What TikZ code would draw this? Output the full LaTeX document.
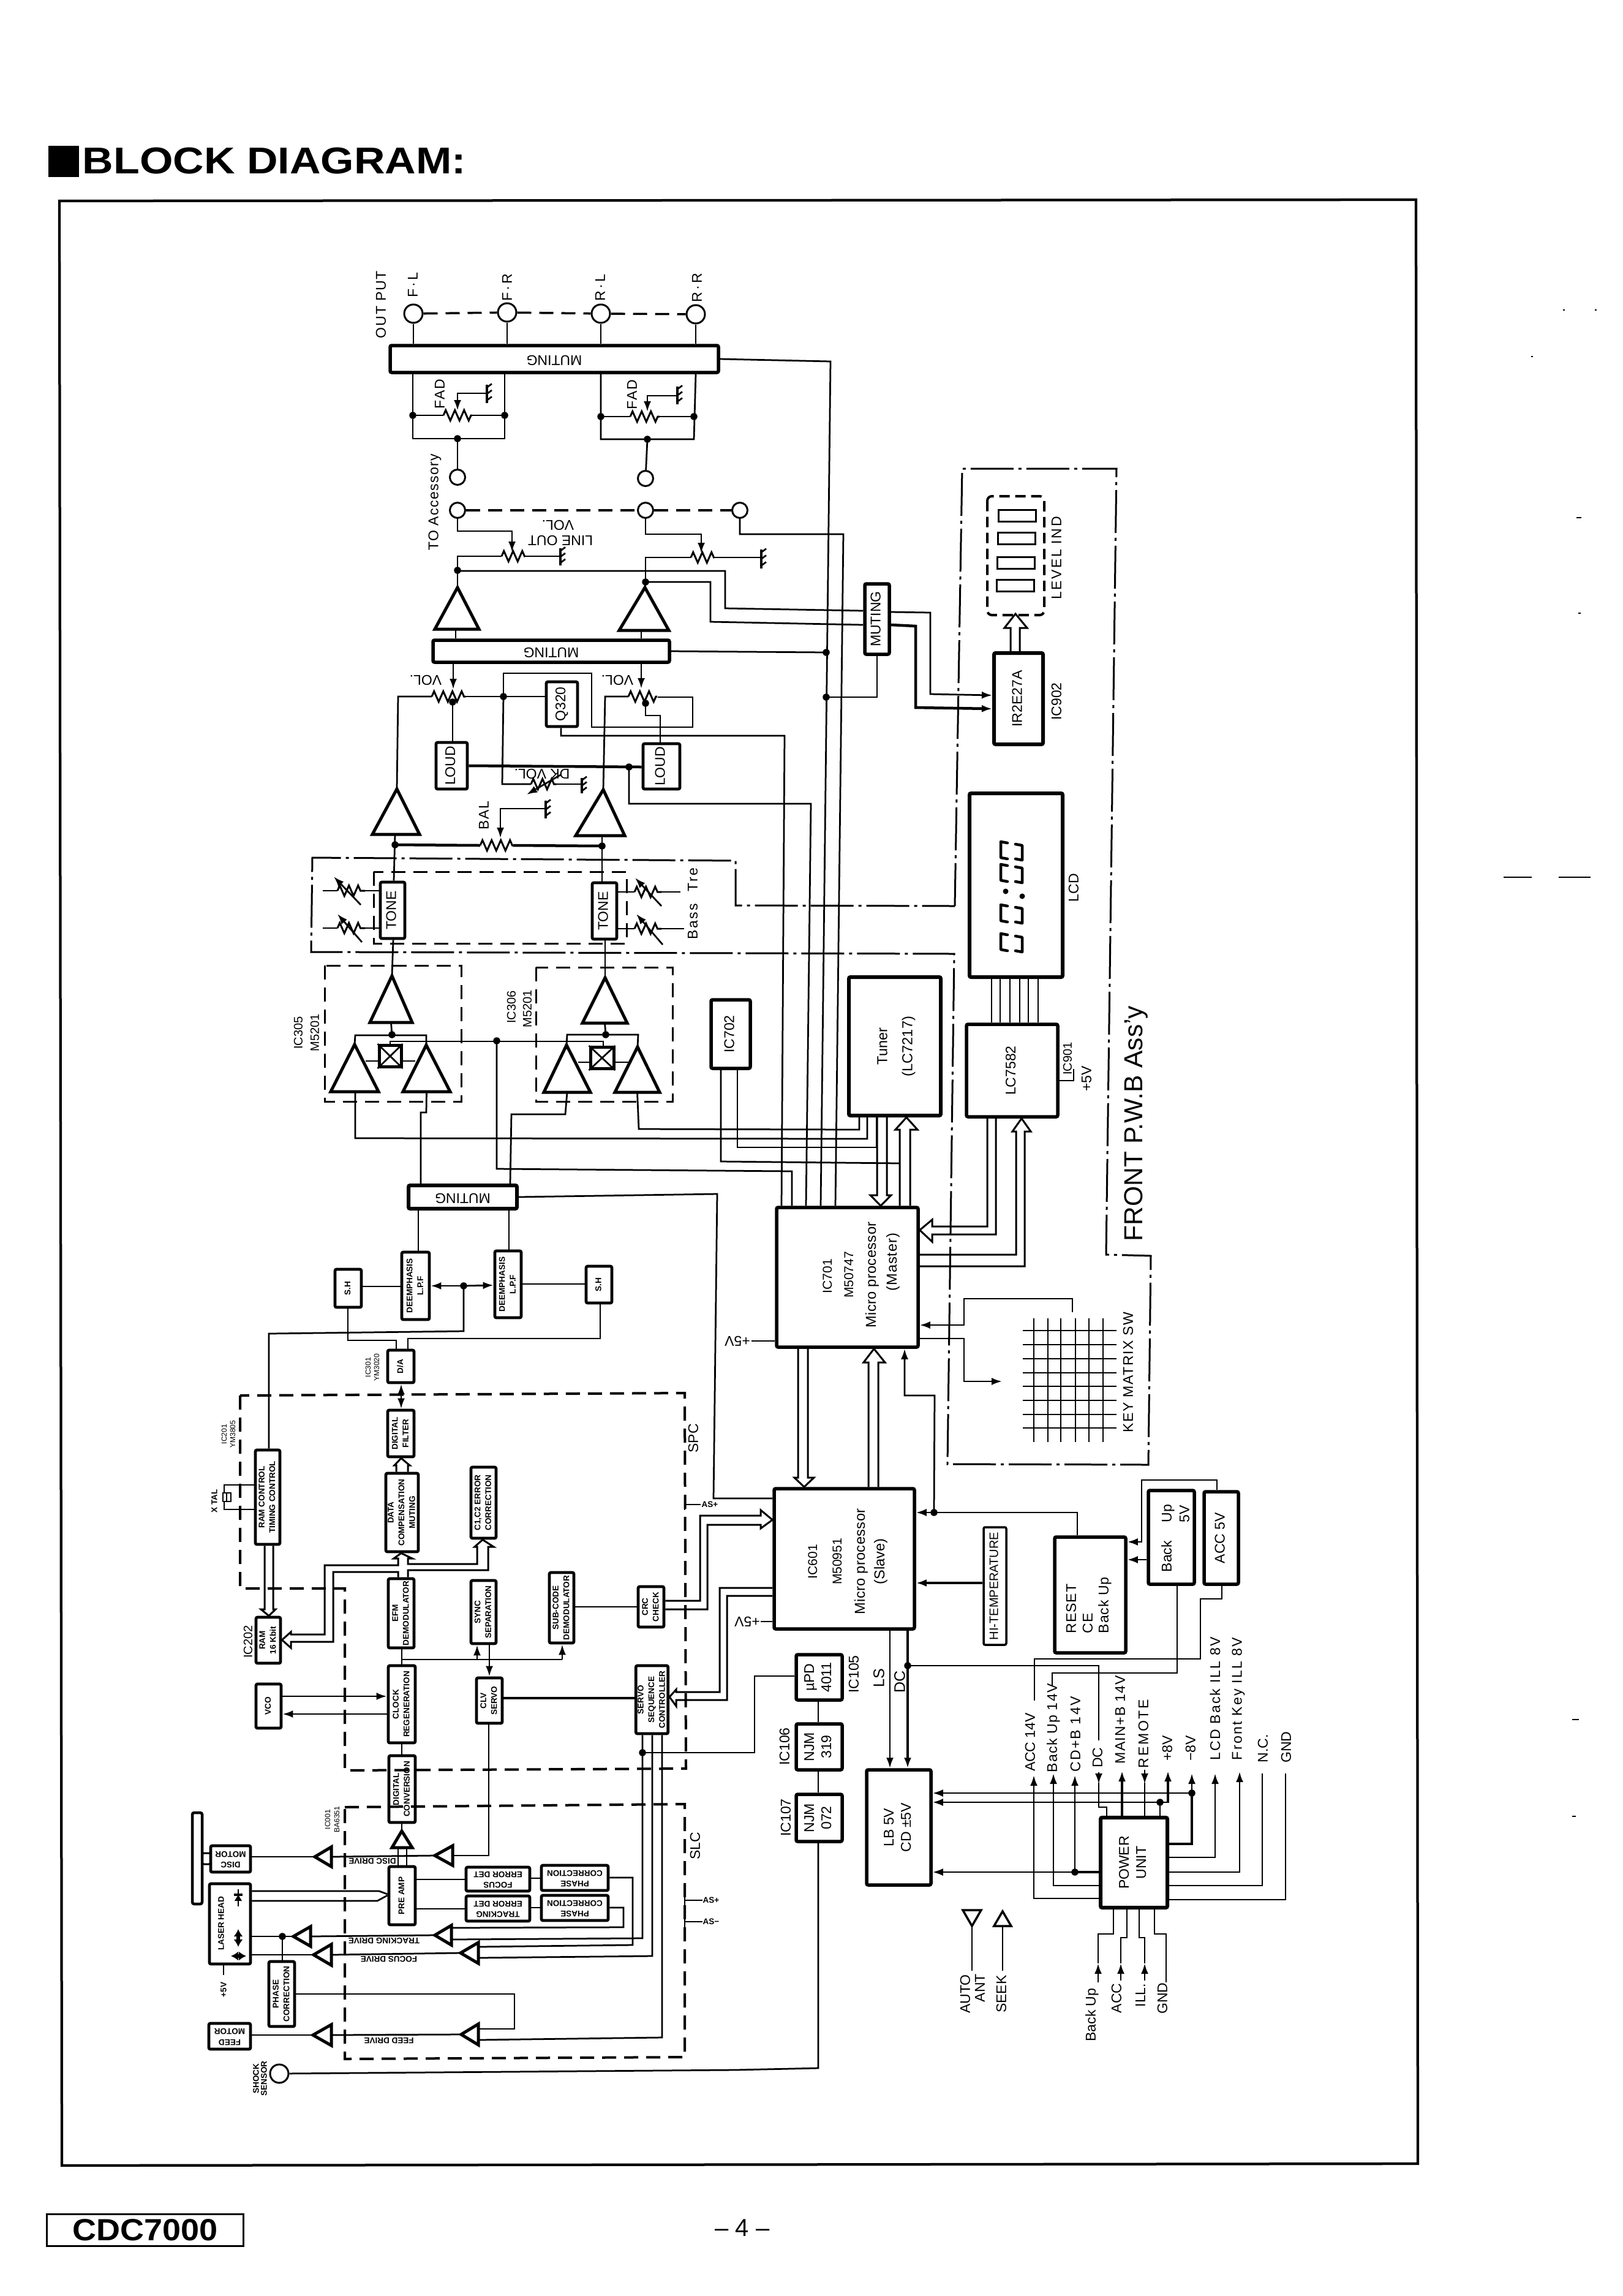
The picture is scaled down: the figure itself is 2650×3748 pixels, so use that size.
\documentclass[tikz,border=0pt]{standalone}
\usepackage{fontspec}
\setmainfont{Liberation Sans}
\usepackage{graphicx}
\usetikzlibrary{arrows.meta,decorations.pathmorphing}

% text sizes
\newcommand\fA{\fontsize{4.6}{5.6}\selectfont}
\newcommand\fB{\fontsize{4.7}{8.2}\selectfont}
\newcommand\fC{\fontsize{4.2}{5.2}\selectfont}
\newcommand\fD{\fontsize{4}{5}\selectfont}
\newcommand\fS{\fontsize{2.7}{3.5}\selectfont\bfseries}
\newcommand\fT{\fontsize{2.4}{3}\selectfont}
\newcommand\spc[1]{\addfontfeature{LetterSpace=#1}}
% rotated box captions
\newcommand\rt[1]{\rotatebox{90}{\begin{tabular}{@{}c@{}}#1\end{tabular}}}
\newcommand\ud[1]{\rotatebox{180}{\begin{tabular}{@{}c@{}}#1\end{tabular}}}

\tikzset{
  w/.style={line width=.55pt,line join=miter},
  wt/.style={line width=.9pt},
  >={Latex[length=3.4pt,width=2.4pt]},
  blk/.style={draw,line width=.95pt,inner sep=0pt,font=\fA,rounded corners=.5pt},
  thinblk/.style={line width=.7pt},
  tx/.style={inner sep=0pt,font=\fA,rotate=90,align=center},
  flat/.style={rotate=-90},
  upd/.style={rotate=90},
  circ/.style={draw,circle,line width=.6pt,inner sep=0pt,minimum size=6pt},
  circs/.style={draw,circle,line width=.6pt,inner sep=0pt,minimum size=5pt},
  dsh/.style={line width=.7pt,dash pattern=on 4.6pt off 2.6pt},
  dd/.style={line width=.6pt,dash pattern=on 14pt off 1.6pt on 1pt off 1.6pt},
  ampline/.style={line width=1pt,line join=miter},
  zz/.style={line width=.6pt,decorate,decoration={zigzag,segment length=3pt,amplitude=1.7pt}},
  bus/.style={line width=.6pt,line join=miter},
  lcdseg/.style={line width=.9pt,line cap=round,line join=round}
}

% rectangular block between two corners
\newcommand\blk[7][]{%
  \pgfmathsetmacro\bw{(#5-#3)*0.2}\pgfmathsetmacro\bh{(#6-#4)*0.2}%
  \node[blk,minimum width=\bw pt,minimum height=\bh pt,#1] (#2) at ({(#3+#5)/2},{(#4+#6)/2}) {#7};}
% free-standing caption
\newcounter{lblc}
\newcommand\lab[4][]{\stepcounter{lblc}\node[tx,#1] (cap\arabic{lblc}) at (#2,#3) {#4};}
% junction dot
\newcommand\jd[2]{\fill (#1,#2) circle[radius=1.15pt];}
% horizontal resistor
\newcommand\rzz[3]{\draw[zz] (#1,#3)--(#2,#3);}
% ground: vertical bar with slanted ticks
\newcommand\gnd[3]{\draw[line width=.8pt] (#1,#2)--(#1,#3);
  \foreach \gf in {0.15,0.5,0.85}{\draw[line width=.55pt] (#1,{#2+(#3-#2)*\gf})--++(8,-6);}}
% amplifier pointing up the sheet
\newcommand\ampU[6]{\coordinate (#1-t) at (#2,#3);\coordinate (#1-b) at ({(#5+#6)/2},#4);
  \draw[ampline] (#5,#4)--(#6,#4)--(#1-t)--cycle;}
% amplifier pointing to the left
\newcommand\ampL[5]{\coordinate (#1-t) at (#2,#3);\coordinate (#1-b) at (#4,#3);
  \draw[ampline] (#4,{#3-#5})--(#4,{#3+#5})--(#1-t)--cycle;}

\begin{document}
\begin{tikzpicture}[x=0.2pt,y=-0.2pt]
\useasboundingbox (0,0) rectangle (2650,3748);
\fill[white] (0,0) rectangle (2650,3748);

% ---------- heading and page furniture
\fill (79,238) rectangle (129,289);
\node[inner sep=0pt,yscale=.87,font=\fontsize{14}{16}\selectfont\bfseries] (title) at (448,263) {BLOCK DIAGRAM:};
\draw[line width=.85pt] (97,328)--(2312,326)--(2315,3532)--(101,3535)--cycle;
\node[draw,line width=.6pt,minimum width=64pt,minimum height=10.4pt,inner sep=0pt,font=\fontsize{10}{12}\selectfont\bfseries] (model) at (237,3640) {\scalebox{1.08}[1]{CDC7000}};
\node[inner sep=0pt,font=\fontsize{8}{10}\selectfont] (pageno) at (1212,3637) {-- 4 --};
% specks on the sheet
\foreach \ax/\bx/\ay in {2455/2501/1432,2545/2597/1432,2574/2582/845,2577/2581/1001,2567/2578/2807,2567/2573/2965,2552/2555/506,2604/2607/506,2500/2503/582}
  {\draw[line width=.4pt] (\ax,\ay)--(\bx,\ay);}

% ---------- output stage
\foreach \n/\x/\y in {oFL/675/512,oFR/828/510,oRL/981/512,oRR/1136/513}{\node[circ] (\n) at (\x,\y) {};}
\draw[dsh] (oFL)--(oFR);\draw[dsh] (oFR)--(oRL);\draw[dsh] (oRL)--(oRR);
\lab[font=\fA\spc{8}]{622}{497}{OUT PUT}
\lab[font=\fA\spc{15}]{674}{465}{F·L}\lab[font=\fA\spc{15}]{828}{469}{F·R}\lab[font=\fA\spc{15}]{980}{470}{R·L}\lab[font=\fA\spc{15}]{1138}{470}{R·R}
\blk[line width=1.1pt]{mutA}{637}{564}{1173}{608}{\ud{MUTING}}
\draw[w] (oFL)--(oFL|-mutA.north);\draw[w] (oFR)--(oFR|-mutA.north);
\draw[w] (oRL)--(oRL|-mutA.north);\draw[w] (oRR)--(oRR|-mutA.north);

% fader left
\draw[w] (mutA.south-|674,0)--(674,716)--(824,716)--(mutA.south-|824,0);
\jd{674}{678}\jd{824}{678}\jd{747}{716}
\draw[w] (674,678)--(724,678);\rzz{724}{771}{678}\draw[w] (771,678)--(824,678);
\draw[w,->] (795,642)--(747,642)--(747,670);
\gnd{795}{628}{658}
\lab[font=\fA\spc{8}]{718}{643}{FAD}
\node[circs] (fadL) at (747,779) {};
\draw[w] (747,716)--(fadL);
% fader right
\draw[w] (mutA.south-|981,0)--(981,717)--(1133,717)--(mutA.south-|1136,0);
\jd{981}{680}\jd{1133}{680}\jd{1057}{717}
\draw[w] (981,680)--(1029,680);\rzz{1029}{1077}{680}\draw[w] (1077,680)--(1133,680);
\draw[w,->] (1106,646)--(1057,646)--(1057,672);
\gnd{1106}{631}{660}
\lab[font=\fA\spc{8}]{1032}{644}{FAD}
\node[circs] (fadR) at (1054,781) {};
\draw[w] (1057,717)--(fadR);

% accessory outputs and line-out volume
\lab[font=\fA\spc{6}]{710}{820}{TO Accessory}
\foreach \n/\x in {acA/747,acB/1054,acC/1208}{\node[circs] (\n) at (\x,833) {};}
\draw[dsh] (acA)--(acB);\draw[dsh] (acB)--(acC);
\draw[w,->] (acA.south)|-(836,867)--(836,901);
\rzz{819}{857}{908}
\draw[w] (747,931)--(747,908)--(819,908);\draw[w] (857,908)--(915,908);
\gnd{915}{895}{923}
\draw[w,->] (acB.south)|-(1145,872)--(1145,903);
\rzz{1128}{1166}{910}
\draw[w] (1054,950)--(1054,910)--(1128,910);\draw[w] (1166,910)--(1243,910);
\gnd{1243}{897}{928}
\lab[upd]{915}{882}{LINE OUT}\lab[upd]{911}{857}{VOL.}

% output amplifiers with the second muting
\ampU{aOL}{747}{959}{1027}{710}{782}
\ampU{aOR}{1053}{959}{1029}{1011}{1092}
\blk[line width=1.1pt]{mutB}{707}{1045}{1093}{1081}{\ud{MUTING}}
\blk[line width=1.1pt]{mutC}{1412}{953}{1452}{1068}{\rt{MUTING}}
\draw[w] (aOL-t)--(747,931);\draw[w] (aOR-t)--(1054,950);
\jd{747}{931}\jd{1054}{950}
\draw[w] (744,1027)--(mutB.north-|744,0);\draw[w] (1047,1029)--(mutB.north-|1047,0);
\draw[w] (747,932)--(1184,932)--(1184,993)--(mutC.west|-0,997);
\draw[w] (1054,950)--(1160,950)--(1160,1015)--(mutC.west|-0,1020);

% buses running down to the master processor
\blk[line width=1.1pt]{ic701}{1268}{1971}{1499}{2199}{}
\draw[w] (mutA.east)--(1356,590)--(ic701.north-|1340,0);
\draw[w] (acC.south)|-(1377,872)--(ic701.north-|1364,0);
\draw[w] (mutB.east)--(1349,1065);\jd{1349}{1065}
\draw[w] (mutC.south)|-(1349,1138);\jd{1349}{1138}

% level meter
\blk[line width=1.2pt]{ic902}{1623}{1066}{1703}{1215}{\rt{IR2E27A}}
\draw[w,->] (mutC.east|-0,999)--(1519,1000)--(1519,1133)--(ic902.west|-0,1135);
\draw[wt,->] (mutC.east|-0,1020)--(1495,1022)--(1495,1155)--(ic902.west|-0,1157);
\lab{1725}{1145}{IC902}
\draw[line width=.8pt,dash pattern=on 3.4pt off 1.8pt,rounded corners=1.5pt] (1612,810) rectangle (1705,1004);
\node[draw,line width=.55pt,minimum width=12.2pt,minimum height=3.8pt,inner sep=0pt] (ledA) at (1661,842) {};
\node[draw,line width=.55pt,minimum width=12.2pt,minimum height=3.8pt,inner sep=0pt] (ledB) at (1660,879) {};
\node[draw,line width=.55pt,minimum width=12.2pt,minimum height=3.8pt,inner sep=0pt] (ledC) at (1659,919) {};
\node[draw,line width=.55pt,minimum width=12.2pt,minimum height=3.8pt,inner sep=0pt] (ledD) at (1658,956) {};
\lab[font=\fA\spc{11}]{1725}{911}{LEVEL IND}
\draw[bus] (ic902.north-|1650,0)--(1650,1025)--(1640,1025)--(1658,1002)--(1677,1025)--(1665,1025)--(ic902.north-|1665,0);

% LCD
\blk[line width=1.2pt]{lcd}{1583}{1295}{1735}{1595}{}
\lab{1753}{1449}{LCD}
\foreach \yc in {1389,1426,1492,1539}{
  \draw[lcdseg] (1645,{\yc-13})--(1634,{\yc-15})--(1634,{\yc+11})--(1645,{\yc+13});
  \draw[lcdseg] (1658,{\yc-11})--(1669,{\yc-9})--(1669,{\yc+15})--(1658,{\yc+13});}
\fill (1642,1455) circle[radius=.9pt];\fill (1669,1463) circle[radius=.9pt];
\blk[line width=1.1pt]{lc7582}{1578}{1672}{1727}{1823}{\rt{LC7582}}
\foreach \x in {1619,1633,1649,1665,1679,1695}{\draw[w] (lcd.south-|\x,0)--(lc7582.north-|\x,0);}
\lab[font=\fD]{1743}{1728}{IC901}
\draw[w] (lc7582.east|-0,1764)--(1753,1764)--(1753,1745);
\lab{1774}{1761}{+5V}

% volume, loudness
\blk{q320}{892}{1113}{943}{1186}{\rt{Q320}}
\blk{loudA}{712}{1212}{763}{1288}{\rt{LOUD}}
\blk{loudB}{1050}{1214}{1110}{1288}{\rt{LOUD}}
\draw[w,->] (mutB.south-|740,0)--(740,1125);
\rzz{705}{760}{1137}\jd{739}{1146}
\draw[w] (739,1146)--(loudA.north-|739,0);
\draw[w] (760,1137)--(q320.west|-0,1137);\jd{822}{1137}
\draw[w] (822,1137)--(822,1099)--(966,1099)--(966,1187)--(1131,1187)--(1131,1138)--(1074,1138);
\draw[w] (822,1137)--(820,1280)--(867,1280);\rzz{867}{908}{1280}\draw[w] (908,1280)--(950,1280);
\gnd{950}{1270}{1295}
\draw[w,->] (915,1265)--(860,1297);
\lab[upd]{885}{1263}{DK VOL.}
\lab[upd]{695}{1110}{VOL.}\lab[upd]{1008}{1110}{VOL.}
\draw[w,->] (mutB.south-|1047,0)--(1047,1124);
\rzz{1026}{1073}{1137}\jd{1054}{1148}
\draw[w] (1054,1148)--(1054,1168)--(1078,1168)--(loudB.north-|1078,0);
\draw[w] (q320.south-|916,0)--(916,1201)--(1281,1201)--(ic701.north-|1276,0);
\draw[wt] (loudA.east|-0,1250)--(loudB.west|-0,1252);\jd{1027}{1252}
\draw[w] (1027,1252)--(1027,1312)--(1324,1312)--(ic701.north-|1316,0);

% tone stage with balance
\ampU{aVL}{648}{1288}{1362}{608}{685}
\ampU{aVR}{985}{1289}{1364}{940}{1020}
\draw[w] (705,1137)--(650,1137)--(aVL-t);
\draw[w] (1026,1137)--(988,1137)--(aVR-t);
\blk{toneL}{621}{1440}{661}{1532}{\rt{TONE}}
\blk{toneR}{967}{1441}{1007}{1533}{\rt{TONE}}
\draw[w] (645,1362)--(toneL.north-|643,0);\jd{645}{1379}
\draw[w] (983,1364)--(toneR.north-|983,0);\jd{983}{1381}
\draw[wt] (645,1379)--(784,1380);\rzz{784}{838}{1380}\draw[wt] (838,1380)--(983,1381);
\draw[w,->] (891,1320)--(817,1320)--(817,1368);
\gnd{891}{1307}{1336}
\lab[font=\fA\spc{6}]{790}{1331}{BAL}
\draw[w] (527,1454)--(551,1454);\rzz{551}{596}{1454}\draw[w] (596,1454)--(toneL.west|-0,1454);
\draw[w,<-] (545,1431)--(589,1477);
\draw[w] (527,1515)--(551,1515);\rzz{551}{596}{1515}\draw[w] (596,1515)--(toneL.west|-0,1515);
\draw[w,<-] (551,1492)--(591,1538);
\draw[w] (toneR.east|-0,1456)--(1036,1456);\rzz{1036}{1080}{1456}\draw[w] (1080,1456)--(1111,1456);
\draw[w,<-] (1037,1433)--(1080,1479);
\draw[w] (toneR.east|-0,1516)--(1036,1516);\rzz{1036}{1080}{1516}\draw[w] (1080,1516)--(1117,1516);
\draw[w,<-] (1039,1492)--(1082,1542);
\lab[font=\fA\spc{10}]{1131}{1475}{Bass\hspace{4pt}Tre}
\draw[dsh,line width=.6pt] (610,1423) rectangle (1023,1540);

% front board outline
\draw[dd] (1559,1479)--(1571,765)--(1823,765)--(1806,2048)--(1879,2050)--(1875,2391)--(1547,2390)--(1558,1557)--(508,1554)--(510,1400)--(1201,1405)--(1201,1478)--cycle;

% electronic volume ICs
\draw[dsh,line width=.6pt] (530,1576) rectangle (753,1798);
\draw[dsh,line width=.6pt] (875,1579) rectangle (1098,1798);
\lab[font=\fD]{487}{1686}{IC305}\lab[font=\fD]{514}{1686}{M5201}
\lab[font=\fD]{835}{1644}{IC306}\lab[font=\fD]{861}{1647}{M5201}
\ampU{aAL}{640}{1593}{1669}{604}{673}
\ampU{aAR}{988}{1596}{1670}{951}{1024}
\draw[w] (toneL.south-|642,0)--(aAL-t);\draw[w] (toneR.south-|988,0)--(aAR-t);
\ampU{aB1}{579}{1705}{1782}{540}{618}
\ampU{aB2}{696}{1706}{1782}{658}{735}
\ampU{aB3}{925}{1706}{1783}{888}{964}
\ampU{aB4}{1041}{1709}{1783}{1004}{1077}
\node[draw,line width=1pt,minimum width=7.2pt,minimum height=7pt,inner sep=0pt] (xsw1) at (637,1724) {};
\node[draw,line width=1pt,minimum width=7.6pt,minimum height=7pt,inner sep=0pt] (xsw2) at (983,1727) {};
\draw[w] (xsw1.north west)--(xsw1.south east);\draw[w] (xsw1.north east)--(xsw1.south west);
\draw[w] (xsw2.north west)--(xsw2.south east);\draw[w] (xsw2.north east)--(xsw2.south west);
\draw[w] (aAL-b)--(640,1690);\draw[w] (aB1-t)--(580,1690)--(696,1690)--(aB2-t);\jd{640}{1689}
\draw[w] (aAR-b)--(989,1689);\draw[w] (aB3-t)--(926,1689)--(1042,1689)--(aB4-t);\jd{989}{1689}
\draw[w] (597,1732)--(xsw1.west|-0,1732);\draw[w] (xsw1.east|-0,1732)--(678,1732);
\draw[w] (944,1734)--(xsw2.west|-0,1734);\draw[w] (xsw2.east|-0,1734)--(1026,1734);
\draw[w] (xsw1.north-|637,0)--(637,1700)--(985,1700)--(xsw2.north-|985,0);\jd{811}{1699}
\blk[line width=1.2pt]{mutD}{667}{1935}{844}{1973}{\ud{MUTING}}
\draw[w] (580,1782)--(580,1858)--(1416,1859)--(1416,1821);
\draw[w] (aB2-b)--(696,1816)--(687,1816)--(mutD.north-|687,0);
\draw[w] (aB3-b)--(923,1819)--(835,1819)--(mutD.north-|833,0);
\draw[w] (aB4-b)--(1043,1843)--(1403,1844)--(1403,1821);
\draw[w] (811,1699)--(811,1908)--(1293,1912)--(ic701.north-|1293,0);

% tuner and system control
\blk[line width=1.2pt,font=\fB]{tuner}{1386}{1595}{1536}{1821}{\rt{Tuner\\(LC7217)}}
\blk[line width=1.1pt]{ic702}{1161}{1632}{1225}{1744}{\rt{IC702}}
\draw[w] (ic702.south-|1204,0)--(1204,1873)--(1431,1873)--(tuner.south-|1431,0);
\draw[w] (ic702.south-|1177,0)--(1177,1896)--(1469,1899);
\draw[bus] (tuner.south-|1432,0)--(1432,1951)--(1421,1951)--(ic701.north-|1438,0)--(1455,1951)--(1448,1951)--(tuner.south-|1448,0);
\draw[bus] (ic701.north-|1469,0)--(1469,1844)--(1462,1844)--(tuner.south-|1480,0)--(1498,1844)--(1486,1844)--(ic701.north-|1486,0);
\draw[bus] (lc7582.south-|1612,0)--(1612,2002)--(1522,2002)--(1522,1991)--(ic701.east|-0,2008)--(1522,2027)--(1522,2015)--(1626,2015)--(lc7582.south-|1626,0);
\draw[bus] (ic701.east|-0,2048)--(1659,2048)--(1659,1847)--(1653,1847)--(lc7582.south-|1668,0)--(1683,1847)--(1673,1847)--(1673,2067)--(ic701.east|-0,2067);
\lab[font=\fC]{1351}{2083}{IC701}\lab[font=\fC]{1386}{2081}{M50747}
\lab[font=\fB\spc{2}]{1424}{2081}{Micro processor}\lab[font=\fB\spc{4}]{1458}{2060}{(Master)}
\draw[w] (ic701.west|-0,2189)--(1227,2189);\lab[upd,font=\fA]{1204}{2189}{+5V}

% key matrix
\draw[w,->] (1751,2142)--(1751,2120)--(1574,2120)--(1574,2163)--(ic701.east|-0,2163);
\draw[w,->] (ic701.east|-0,2185)--(1574,2185)--(1574,2255)--(1636,2255);
\foreach \x in {1688,1711,1732,1756,1778,1801}{\draw[w] (\x,2152)--(\x,2354);}
\foreach \y in {2172,2195,2218,2241,2263,2286,2309,2331}{\draw[w] (1670,\y)--(1823,\y);}
\lab[font=\fA\spc{7}]{1842}{2240}{KEY MATRIX SW}
\lab[font=\fontsize{8.5}{10}\selectfont]{1855}{1834}{FRONT P.W.B Ass'y}

% slave processor and its neighbours
\blk[line width=1.1pt]{ic601}{1264}{2430}{1493}{2659}{}
\lab[font=\fC]{1327}{2549}{IC601}\lab[font=\fC]{1367}{2549}{M50951}
\lab[font=\fB\spc{2}]{1406}{2549}{Micro processor}\lab[font=\fB]{1438}{2549}{(Slave)}
\draw[w] (ic601.west|-0,2647)--(1242,2647);\lab[upd,font=\fA]{1220}{2647}{+5V}
\draw[bus] (ic701.south-|1303,0)--(1303,2412)--(1297,2412)--(ic601.north-|1313,0)--(1329,2412)--(1319,2412)--(ic701.south-|1319,0);
\draw[bus] (ic601.north-|1418,0)--(1418,2224)--(1410,2224)--(ic701.south-|1427,0)--(1445,2224)--(1434,2224)--(ic601.north-|1434,0);
\blk[thinblk,font=\fD]{hitemp}{1606}{2493}{1643}{2685}{\rt{HI-TEMPERATURE}}
\draw[wt,->] (hitemp.west|-0,2584)--(ic601.east|-0,2584);
\blk[line width=1.1pt]{reset}{1722}{2509}{1838}{2698}{}
\lab[anchor=west,font=\fA\spc{4}]{1749}{2667}{RESET}\lab[anchor=west,font=\fA\spc{4}]{1776}{2667}{CE}\lab[anchor=west,font=\fA\spc{4}]{1804}{2667}{Back Up}
\draw[w,->] (reset.north-|1759,0)--(1759,2469)--(ic601.east|-0,2469);\jd{1525}{2469}
\draw[w,->] (1525,2469)--(1526,2278)--(1477,2278)--(ic701.south-|1477,0);
\blk[line width=1.1pt]{bu5}{1875}{2433}{1950}{2586}{}
\lab{1907}{2511}{Back\hspace{6pt}Up}\lab{1934}{2471}{5V}
\blk[line width=1.1pt]{acc5}{1966}{2435}{2022}{2586}{\rt{ACC 5V}}
\draw[w,->] (acc5.north-|1987,0)--(1987,2416)--(1864,2416)--(1864,2517)--(reset.east|-0,2517);
\draw[w,->] (bu5.west|-0,2546)--(reset.east|-0,2546);
\draw[w] (bu5.south-|1922,0)--(1922,2731)--(1718,2731)--(1718,2752);
\draw[w] (acc5.south-|1995,0)--(1995,2610)--(1960,2610)--(1960,2708)--(1689,2708)--(1689,2776);

% regulators
\blk[line width=1.1pt]{upd4011}{1300}{2701}{1375}{2775}{\rt{µPD\\4011}}
\blk[line width=1.1pt]{njm319}{1300}{2814}{1375}{2889}{\rt{NJM\\319}}
\blk[line width=1.1pt]{njm072}{1300}{2929}{1375}{3006}{\rt{NJM\\072}}
\lab{1394}{2733}{IC105}\lab{1281}{2851}{IC106}\lab{1283}{2967}{IC107}
\draw[w] (upd4011.south-|1336,0)--(njm319.north-|1336,0);
\draw[w] (njm319.south-|1336,0)--(njm072.north-|1336,0);
\blk[line width=1.1pt]{lbbox}{1415}{2889}{1520}{3077}{\rt{LB 5V\\CD ±5V}}
\draw[w,->] (ic601.south-|1453,0)--(lbbox.north-|1453,0);
\draw[wt,->] (ic601.south-|1482,0)--(lbbox.north-|1482,0);
\lab[font=\fontsize{5}{6}\selectfont]{1435}{2739}{LS}\lab[font=\fontsize{5}{6}\selectfont]{1469}{2745}{DC}
\jd{1482}{2719}
\draw[w] (1482,2719)--(1794,2719)--(1794,2841);

% power unit
\blk[line width=1.2pt]{pw}{1797}{2967}{1906}{3114}{\rt{POWER\\UNIT}}
\draw[w,->] (pw.west|-0,3099)--(1688,3099)--(1688,2898);
\draw[w,->] (pw.west|-0,3078)--(1720,3078)--(1720,2895);
\draw[w,->] (1755,3056)--(1755,2898);\jd{1755}{3056}
\draw[wt] (pw.west|-0,3056)--(1755,3056);\draw[w,->] (1755,3056)--(lbbox.east|-0,3056);
\draw[w,->] (1794,2893)--(1794,2912);\draw[w] (1794,2910)--(1794,2950)--(1807,2950)--(pw.north-|1807,0);
\draw[wt,->] (pw.north-|1832,0)--(1832,2891);
\draw[w,->] (1869,2889)--(1869,2912);\draw[w] (1869,2910)--(pw.north-|1869,0);
\draw[wt,->] (1907,2943)--(1907,2891);
\draw[w,->] (1907,2942)--(lbbox.east|-0,2942);\jd{1894}{2942}\draw[w] (1894,2942)--(pw.north-|1894,0);
\draw[wt] (pw.east|-0,3010)--(1946,3010)--(1946,2927);\draw[w,->] (1946,2927)--(1946,2895);
\jd{1946}{2927}\draw[w,->] (1946,2927)--(lbbox.east|-0,2927);
\draw[w,->] (pw.east|-0,3032)--(1984,3032)--(1984,2895);
\draw[w,->] (pw.east|-0,3056)--(2024,3056)--(2024,2892);
\draw[w] (pw.east|-0,3078)--(2061,3078)--(2061,2895);
\draw[w] (pw.east|-0,3101)--(2099,3101)--(2099,2895);
\lab{1682}{2844}{ACC 14V}\lab[font=\fA\spc{6}]{1720}{2821}{Back Up 14V}\lab[font=\fA\spc{10}]{1756}{2831}{CD+B 14V}
\lab{1792}{2869}{DC}\lab[font=\fA\spc{6}]{1829}{2807}{MAIN+B 14V}\lab[font=\fA\spc{12}]{1867}{2830}{REMOTE}
\lab{1906}{2854}{+8V}\lab{1944}{2854}{−8V}
\lab[font=\fA\spc{10}]{1984}{2773}{LCD Back ILL 8V}\lab[font=\fA\spc{10}]{2022}{2773}{Front Key ILL 8V}
\lab{2062}{2854}{N.C.}\lab{2100}{2852}{GND}
\draw[w] (pw.south-|1818,0)--(1818,3157)--(1793,3157)--(1793,3205);\draw[w,->] (1793,3236)--(1793,3205);
\draw[w] (pw.south-|1840,0)--(1840,3163)--(1830,3163)--(1830,3205);\draw[w,->] (1830,3233)--(1830,3205);
\draw[w] (pw.south-|1860,0)--(1860,3163)--(1869,3163)--(1869,3205);\draw[w,->] (1869,3233)--(1869,3205);
\draw[w] (pw.south-|1885,0)--(1885,3157)--(1904,3157)--(1904,3236);
\lab{1783}{3289}{Back Up}\lab{1823}{3262}{ACC}\lab{1862}{3257}{ILL.}\lab{1898}{3262}{GND}
% antenna and seek
\draw[line width=.7pt] (1572,3118)--(1602,3118)--(1587,3144)--cycle;
\draw[w] (1587,3144)--(1587,3217);
\draw[line width=.7pt] (1623,3144)--(1651,3144)--(1637,3120)--cycle;
\draw[w] (1637,3144)--(1637,3217);
\lab{1576}{3255}{AUTO}\lab{1600}{3245}{ANT}\lab{1635}{3255}{SEEK}

% audio filters and D/A
\blk[font=\fS]{deemA}{656}{2044}{701}{2154}{\rt{DEEMPHASIS\\L.P.F}}
\blk[font=\fS]{deemB}{808}{2042}{851}{2151}{\rt{DEEMPHASIS\\L.P.F}}
\blk[font=\fS]{shA}{547}{2072}{590}{2134}{\rt{S.H}}
\blk[font=\fS]{shB}{957}{2067}{999}{2127}{\rt{S.H}}
\draw[w] (mutD.south-|683,0)--(deemA.north-|683,0);
\draw[w] (mutD.south-|831,0)--(deemB.north-|831,0);
\draw[w] (shA.east|-0,2100)--(deemA.west|-0,2100);
\draw[w] (deemB.east|-0,2096)--(shB.west|-0,2096);
\draw[w,->] (757,2099)--(deemA.east|-0,2099);\draw[w,->] (757,2099)--(deemB.west|-0,2098);\jd{757}{2099}
\blk[font=\fS]{da}{633}{2204}{676}{2257}{\rt{D/A}}
\draw[w] (shA.south-|568,0)--(568,2188)--(647,2188)--(da.north-|647,0);
\draw[w] (shB.south-|980,0)--(980,2185)--(666,2185)--(da.north-|666,0);
\lab[font=\fT]{601}{2232}{IC301}\lab[font=\fT]{615}{2232}{YM3020}
\blk[font=\fS]{dfil}{633}{2302}{676}{2378}{\rt{DIGITAL\\FILTER}}
\draw[w,<->] (da.south-|655,0)--(dfil.north-|655,0);
\blk[font=\fS]{dcomp}{630}{2405}{683}{2533}{\rt{DATA\\COMPENSATION\\MUTING}}
\draw[bus] (dcomp.north-|647,0)--(647,2392)--(644,2392)--(dfil.south-|655,0)--(669,2392)--(666,2392)--(dcomp.north-|666,0);
\blk[font=\fS]{cerr}{769}{2395}{810}{2511}{\rt{C1,C2 ERROR\\CORRECTION}}
\blk[font=\fS]{ramc}{417}{2367}{457}{2521}{\rt{RAM CONTROL\\TIMING CONTROL}}
\draw[w] (757,2099)--(757,2173)--(439,2177)--(ramc.north-|439,0);
\lab[font=\fT]{366}{2341}{IC201}\lab[font=\fT]{380}{2341}{YM3805}
\lab[font=\fS]{350}{2450}{X TAL}
\draw[w] (ramc.west|-0,2424)--(366,2424)--(366,2437);
\draw[w] (ramc.west|-0,2464)--(366,2464)--(366,2451);
\draw[w] (364,2437) rectangle (377,2451);\draw[w] (370,2437)--(370,2451);
\blk[font=\fS]{ram}{418}{2640}{458}{2715}{\rt{RAM\\16 Kbit}}
\lab[font=\fD]{405}{2680}{IC202}
\draw[bus] (ramc.south-|432,0)--(432,2627)--(426,2627)--(ram.north-|439,0)--(450,2627)--(446,2627)--(ramc.south-|446,0);
\blk[font=\fS]{efm}{634}{2577}{676}{2690}{\rt{EFM\\DEMODULATOR}}
\draw[bus] (dcomp.south-|655,0)--(643,2544)--(650,2544)--(650,2555)--(530,2555)--(530,2668)--(475,2668)--(475,2664)--(ram.east|-0,2677)--(475,2690)--(475,2680)--(544,2680)--(544,2566)--(650,2566)--(efm.north-|650,0);
\draw[bus] (dcomp.south-|655,0)--(673,2544)--(666,2544)--(666,2553)--(779,2553)--(779,2525)--(775,2525)--(cerr.south-|788,0)--(806,2525)--(797,2525)--(797,2563)--(666,2563)--(efm.north-|666,0);
\blk[font=\fS]{sync}{769}{2580}{810}{2683}{\rt{SYNC\\SEPARATION}}
\blk[font=\fS]{subc}{897}{2567}{937}{2682}{\rt{SUB-CODE\\DEMODULATOR}}
\blk[font=\fS]{crc}{1042}{2590}{1084}{2656}{\rt{CRC\\CHECK}}
\draw[w] (subc.east|-0,2623)--(crc.west|-0,2623);
\draw[bus] (crc.east|-0,2613)--(1143,2613)--(1143,2474)--(1242,2474)--(1242,2465)--(ic601.west|-0,2481)--(1242,2495)--(1242,2489)--(1155,2489)--(1155,2627)--(crc.east|-0,2627);
\draw[w] (mutD.east)--(1171,1949)--(1165,2446)--(ic601.west|-0,2446);

% servo section
\blk[font=\fS]{servo}{1039}{2719}{1090}{2830}{\rt{SERVO\\SEQUENCE\\CONTROLLER}}
\blk[font=\fS]{vco}{418}{2749}{459}{2821}{\rt{VCO}}
\blk[font=\fS]{clock}{634}{2719}{678}{2845}{\rt{CLOCK\\REGENERATION}}
\blk[font=\fS]{clv}{778}{2739}{820}{2813}{\rt{CLV\\SERVO}}
\blk[font=\fS]{dconv}{635}{2866}{678}{2975}{\rt{DIGITAL\\CONVERSION}}
\blk[font=\fS]{pre}{635}{3047}{678}{3142}{\rt{PRE AMP}}
\draw[bus] (ic601.west|-0,2592)--(1175,2592)--(1175,2762)--(1104,2762)--(1104,2758)--(servo.east|-0,2770)--(1104,2785)--(1104,2775)--(1187,2775)--(1187,2605)--(ic601.west|-0,2605);
\draw[w,->] (vco.east|-0,2769)--(clock.west|-0,2769);
\draw[w,<-] (vco.east|-0,2798)--(clock.west|-0,2798);
\draw[w] (clock.north-|656,0)--(efm.south-|656,0);
\draw[w] (656,2709)--(918,2709);
\draw[w,->] (779,2709)--(sync.south-|779,0);
\draw[w,->] (918,2709)--(subc.south-|918,0);
\draw[w,->] (sync.south-|799,0)--(clv.north-|799,0);
\draw[wt] (clv.east|-0,2772)--(servo.west|-0,2772);
\draw[w] (clock.south-|656,0)--(dconv.north-|656,0);

% section frames
\draw[dsh,line width=.8pt] (392,2278)--(392,2593)--(563,2593)--(563,2890)--(1120,2887)--(1118,2274)--cycle;
\lab{1132}{2348}{SPC}
\draw[dsh,line width=.8pt] (563,2950)--(1118,2945)--(1118,3358)--(563,3361)--cycle;
\lab{1135}{3013}{SLC}
\draw[w] (1118,2447)--(1118,2465);\draw[w] (1118,2456)--(1144,2456);\lab[flat,font=\fS]{1159}{2456}{AS+}
\draw[w] (1118,3092)--(1118,3112);\draw[w] (1118,3102)--(1147,3102);\lab[flat,font=\fS]{1161}{3102}{AS+}
\draw[w] (1118,3127)--(1118,3147);\draw[w] (1118,3137)--(1147,3137);\lab[flat,font=\fS]{1161}{3137}{AS−}
\lab[font=\fT]{535}{2970}{IC001}\lab[font=\fT]{550}{2970}{BA6351}

% drive amplifiers
\ampL{dD2}{710}{3029}{739}{16}
\ampL{dD1}{514}{3031}{541}{16}
\ampL{dT2}{710}{3159}{737}{16}
\ampL{dT1}{479}{3161}{507}{16}
\ampL{dF2}{752}{3188}{781}{17}
\ampL{dF1}{512}{3191}{541}{17}
\ampL{dL2}{753}{3321}{781}{17}
\ampL{dL1}{511}{3322}{541}{17}
\blk[font=\fS]{dmot}{344}{3013}{409}{3056}{\ud{DISC\\MOTOR}}
\blk[font=\fS]{lmot}{341}{3303}{409}{3345}{\ud{FEED\\MOTOR}}
\blk[font=\fS]{laser}{342}{3075}{409}{3206}{}
\lab[font=\fS]{361}{3140}{LASER HEAD}
\blk[font=\fS]{phc}{439}{3202}{481}{3308}{\rt{PHASE\\CORRECTION}}
\draw[w] (dmot.east|-0,3031)--(dD1-t);\draw[w] (dD1-b)--(dD2-t);
\draw[w] (clv.south-|798,0)--(798,3029)--(dD2-b);
\draw[w] (laser.east|-0,3161)--(dT1-t);\draw[w] (dT1-b)--(dT2-t);\jd{461}{3161}
\draw[w] (461,3161)--(phc.north-|461,0);
\draw[w] (laser.east|-0,3191)--(dF1-t);\draw[w] (dF1-b)--(dF2-t);
\draw[w] (lmot.east|-0,3322)--(dL1-t);\draw[w] (dL1-b)--(dL2-t);
\draw[w] (phc.east|-0,3255)--(840,3255)--(840,3312)--(781,3312);
% disc and pick-up symbols
\draw[line width=.9pt,rounded corners=.6pt] (314,2959) rectangle (330,3108);
\draw[line width=.6pt,rounded corners=.6pt] (330,3025) rectangle (344,3043);
\draw[w] (389,3084)--(389,3112);\fill (383,3103)--(395,3103)--(389,3093)--cycle;\draw[line width=.8pt] (382,3093)--(396,3093);
\draw[line width=1.2pt,{Latex[length=2.4pt,width=3pt]}-{Latex[length=2.4pt,width=3pt]}] (389,3149)--(389,3178);
\draw[line width=1.2pt,{Latex[length=2.4pt,width=3pt]}-{Latex[length=2.4pt,width=3pt]}] (377,3193)--(402,3193);
\draw[w] (laser.south-|365,0)--(365,3224);\lab[font=\fS]{365}{3248}{+5V}
\draw[w] (laser.east|-0,3087)--(619,3087)--(pre.west|-0,3092);
\draw[w] (laser.east|-0,3103)--(616,3103)--(pre.west|-0,3094);
\lab[upd,font=\fS]{608}{3038}{DISC DRIVE}
\lab[upd,font=\fS]{627}{3168}{TRACKING DRIVE}
\lab[upd,font=\fS]{635}{3198}{FOCUS DRIVE}
\lab[upd,font=\fS]{635}{3331}{FEED DRIVE}

% pre-amp and detectors
\ampU{aPre}{656}{2989}{3016}{640}{673}
\draw[w] (dconv.south-|656,0)--(aPre-t);
\draw[w] (650,3016)--(pre.north-|650,0);\draw[w] (664,3016)--(pre.north-|664,0);
\blk[font=\fS]{fdet}{761}{3048}{865}{3087}{\ud{FOCUS\\ERROR DET}}
\blk[font=\fS]{pcA}{884}{3045}{993}{3086}{\ud{PHASE\\CORRECTION}}
\blk[font=\fS]{tdet}{761}{3095}{865}{3136}{\ud{TRACKING\\ERROR DET}}
\blk[font=\fS]{pcB}{884}{3094}{993}{3135}{\ud{PHASE\\CORRECTION}}
\draw[w] (pre.east|-0,3068)--(fdet.west|-0,3068);
\draw[w] (pre.east|-0,3116)--(tdet.west|-0,3116);
\draw[w] (fdet.east|-0,3066)--(pcA.west|-0,3066);
\draw[w] (tdet.east|-0,3114)--(pcB.west|-0,3114);
\draw[w] (pcA.east|-0,3065)--(1033,3065)--(1033,3175)--(781,3178);
\draw[w] (pcB.east|-0,3114)--(1018,3114)--(1018,3146)--(737,3147);
\draw[w] (servo.south-|1049,0)--(1049,3164)--(737,3166);\jd{1049}{2861}
\draw[w] (servo.south-|1065,0)--(1065,3193)--(781,3196);
\draw[w] (servo.south-|1081,0)--(1081,3326)--(781,3330);
\draw[w] (1049,2861)--(1232,2861)--(1232,2736)--(upd4011.west|-0,2736);

% shock sensor
\node[circ] (shock) at (456,3385) {};
\draw[w] (shock)--(1200,3379)--(1336,3376)--(njm072.south-|1336,0);
\lab[font=\fS]{418}{3393}{SHOCK}\lab[font=\fS]{431}{3393}{SENSOR}
\end{tikzpicture}
\end{document}
